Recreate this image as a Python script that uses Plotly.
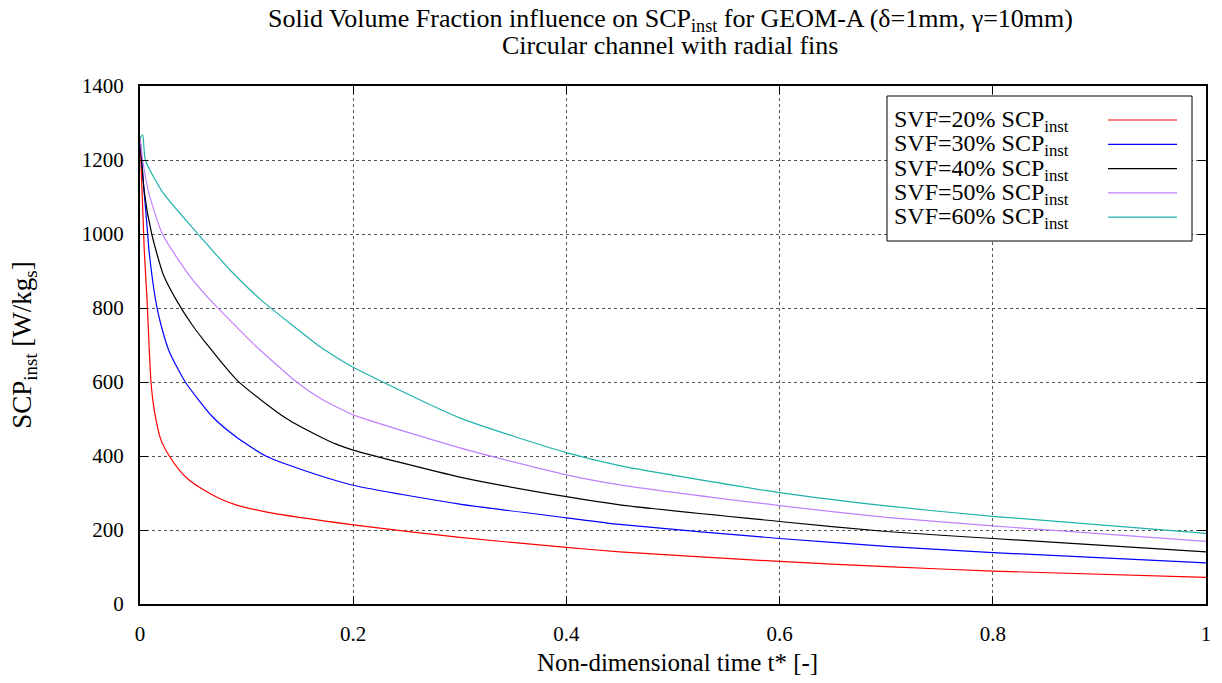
import plotly.graph_objects as go

# ---------------- data ----------------
labels = ["SVF=20% SCP<sub>inst</sub>", "SVF=30% SCP<sub>inst</sub>", "SVF=40% SCP<sub>inst</sub>",
          "SVF=50% SCP<sub>inst</sub>", "SVF=60% SCP<sub>inst</sub>"]
colors = ["#ff0000", "#0000ff", "#000000", "#c080ff", "#20b2aa"]

t_20 = [0, 0.004, 0.0066, 0.0103, 0.0134, 0.0197, 0.0275, 0.0369, 0.046, 0.0588, 0.074, 0.090,
        0.118, 0.2, 0.3, 0.4, 0.45, 0.6, 0.7, 0.8, 1.0]
scp_20 = [1262, 957, 822, 600, 524, 443, 400, 362, 335, 310, 286, 268,
          249, 214, 180, 153, 141, 115, 101, 89, 72]

t_30 = [0, 0.004, 0.0072, 0.0084, 0.015, 0.0197, 0.0275, 0.0425, 0.068, 0.090, 0.118, 0.15,
        0.2, 0.3, 0.4, 0.45, 0.6, 0.7, 0.8, 1.0]
scp_30 = [1262, 1110, 1000, 957, 815, 754, 682, 600, 506, 452, 400, 365,
          321, 270, 233, 215, 177, 156, 139, 111]

t_40 = [0, 0.004, 0.011, 0.022, 0.034, 0.049, 0.060, 0.0916, 0.137, 0.169, 0.184, 0.2,
        0.3, 0.4, 0.45, 0.6, 0.7, 0.8, 1.0]
scp_40 = [1262, 1114, 1000, 889, 822, 754, 712, 603, 502, 452, 432, 416,
          343, 290, 268, 223, 196, 177, 141]

t_50 = [0, 0.0025, 0.008, 0.021, 0.046, 0.0657, 0.085, 0.1057, 0.146, 0.169, 0.184, 0.2,
        0.3, 0.4, 0.45, 0.6, 0.7, 0.8, 1.0]
scp_50 = [1262, 1200, 1114, 1000, 889, 822, 765, 705, 602, 556, 533, 511,
          422, 349, 322, 266, 234, 211, 169]

t_60 = [0, 0.0025, 0.005, 0.021, 0.0535, 0.0854, 0.1135, 0.169, 0.184, 0.2,
        0.3, 0.4, 0.45, 0.6, 0.7, 0.8, 1.0]
scp_60 = [1259, 1268, 1200, 1114, 1003, 900, 822, 695, 667, 640,
          503, 409, 374, 301, 265, 237, 191]

series_t = [t_20, t_30, t_40, t_50, t_60]
series_v = [scp_20, scp_30, scp_40, scp_50, scp_60]

x_ticks = [0, 0.2, 0.4, 0.6, 0.8, 1]
y_ticks = [0, 200, 400, 600, 800, 1000, 1200, 1400]

title_lines = ["Solid Volume Fraction influence on SCP<sub>inst</sub> for GEOM-A (δ=1mm, γ=10mm)",
               "Circular channel with radial fins"]

# ---------------- figure ----------------
W, H = 1222, 683
L, R, T, B = 140, 16, 86, 79
FONT = "Liberation Serif, Times New Roman, serif"

fig = go.Figure()
for tt, vv, nm, c in zip(series_t, series_v, labels, colors):
    fig.add_trace(go.Scatter(x=tt, y=vv, mode="lines", name=nm,
                             line=dict(color=c, width=1.2, shape="spline", smoothing=0.6),
                             showlegend=False))

pw, ph = W - L - R, H - T - B
def px(x):  # pixel -> paper
    return (x - L) / pw
def py(y):
    return (H - B - y) / ph

# manual gnuplot-style legend (text left, sample right)
shapes = [dict(type="rect", xref="paper", yref="paper",
               x0=px(887), x1=px(1192), y0=py(241), y1=py(96),
               line=dict(color="black", width=1), fillcolor="white", layer="above")]
annotations = []
row0, dy = 120, 24.3
for i, (nm, c) in enumerate(zip(labels, colors)):
    yy = row0 + i * dy
    annotations.append(dict(xref="paper", yref="paper", x=px(892), y=py(yy + 1),
                            xanchor="left", yanchor="middle", text=nm, showarrow=False,
                            font=dict(family=FONT, size=24, color="black")))
    shapes.append(dict(type="line", xref="paper", yref="paper",
                       x0=px(1108), x1=px(1177), y0=py(yy), y1=py(yy),
                       line=dict(color=c, width=1.2), layer="above"))

# title as two separate lines (tight gnuplot-like spacing)
for txt, yc in zip(title_lines, [20, 46]):
    annotations.append(dict(xref="paper", yref="paper", x=px(670), y=py(yc),
                            xanchor="center", yanchor="middle", text=txt, showarrow=False,
                            font=dict(family=FONT, size=26, color="black")))

# x-axis title
annotations.append(dict(xref="paper", yref="paper", x=px(677), y=py(663),
                        xanchor="center", yanchor="middle",
                        text="Non-dimensional time t* [-]", showarrow=False,
                        font=dict(family=FONT, size=25, color="black")))

fig.update_layout(
    width=W, height=H,
    margin=dict(l=L, r=R, t=T, b=B),
    paper_bgcolor="white", plot_bgcolor="white",
    font=dict(family=FONT, size=21, color="black"),
    shapes=shapes, annotations=annotations,
)
fig.update_xaxes(range=[0, 1], tickvals=x_ticks, ticktext=[f"{v:g}" for v in x_ticks],
                 showline=True, linecolor="black", linewidth=2, mirror="allticks",
                 ticks="inside", ticklen=8, tickcolor="black", tickwidth=1,
                 showgrid=True, gridcolor="#555555", griddash="dot", gridwidth=1,
                 zeroline=False, ticklabelstandoff=10,
                 tickfont=dict(family=FONT, size=21, color="black"))
fig.update_yaxes(range=[0, 1400], tickvals=y_ticks,
                 showline=True, linecolor="black", linewidth=2, mirror="allticks",
                 ticks="inside", ticklen=8, tickcolor="black", tickwidth=1,
                 showgrid=True, gridcolor="#555555", griddash="dot", gridwidth=1,
                 zeroline=False, ticklabelstandoff=10,
                 tickfont=dict(family=FONT, size=21, color="black"),
                 title=dict(text="SCP<sub>inst</sub> [W/kg<sub>s</sub>]", standoff=42,
                            font=dict(family=FONT, size=27, color="black")))

fig.write_html("out.html")
